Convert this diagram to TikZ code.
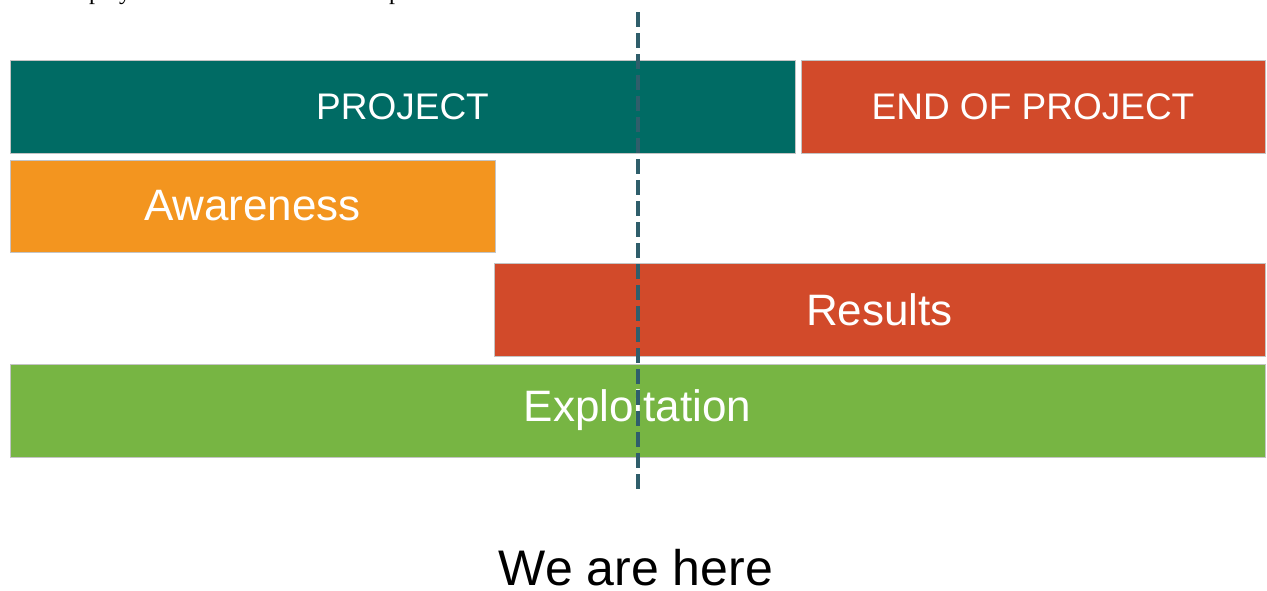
\documentclass[tikz,border=0pt]{standalone}
\usepackage{fontspec}
\setmainfont{Liberation Sans}
\newfontfamily\serifcut{Liberation Serif}
\definecolor{teal1}{HTML}{006B64}
\definecolor{red1}{HTML}{D24A2A}
\definecolor{orange1}{HTML}{F3951F}
\definecolor{green1}{HTML}{77B543}
\definecolor{dash1}{HTML}{2F5E6B}
\definecolor{edge1}{HTML}{C4C4C4}
\tikzset{
  bar/.style={draw=edge1, line width=1pt, inner sep=0pt, outer sep=0pt, text=white},
  captxt/.style={font=\fontsize{37}{40}\selectfont},
  wordtxt/.style={font=\fontsize{44}{48}\selectfont},
  herefig/.style={dash pattern=on 15pt off 6pt, line width=3.5pt, draw=dash1},
}
\begin{document}
\begin{tikzpicture}[x=1pt,y=-1pt]
\useasboundingbox (0,0) rectangle (1267,590);
% clipped text line at top
\node[anchor=base, font=\serifcut\fontsize{24}{26}\selectfont, inner sep=0pt] (cut1) at (95,-1) {p};
\node[anchor=base, font=\serifcut\fontsize{24}{26}\selectfont, inner sep=0pt] (cut2) at (125,-1) {y};
\node[anchor=base, font=\serifcut\fontsize{24}{26}\selectfont, inner sep=0pt] (cut3) at (395,-1) {p};
% bars
\path[bar, fill=teal1] (10,60) rectangle (795,153) node[midway, captxt, text=white] (proj) {PROJECT};
\path[bar, fill=red1] (801,60) rectangle (1265,153) node[midway, captxt, text=white] (endp) {END OF PROJECT};
\path[bar, fill=orange1] (10,160) rectangle (495,252) node[midway, wordtxt, text=white] (aware) {Awareness};
\path[bar, fill=red1] (494,263) rectangle (1265,356) node[midway, wordtxt, text=white] (res) {Results};
\path[bar, fill=green1] (10,364) rectangle (1265,457) node[midway, wordtxt, text=white] (expl) {Exploitation};
% dashed marker
\coordinate (mtop) at (638,12);
\coordinate (mbot) at (638,493);
\draw[herefig] (mtop) -- (mbot);
\node[font=\fontsize{50}{54}\selectfont, text=black] (here) at (636,568) {We are here};
\end{tikzpicture}
\end{document}
